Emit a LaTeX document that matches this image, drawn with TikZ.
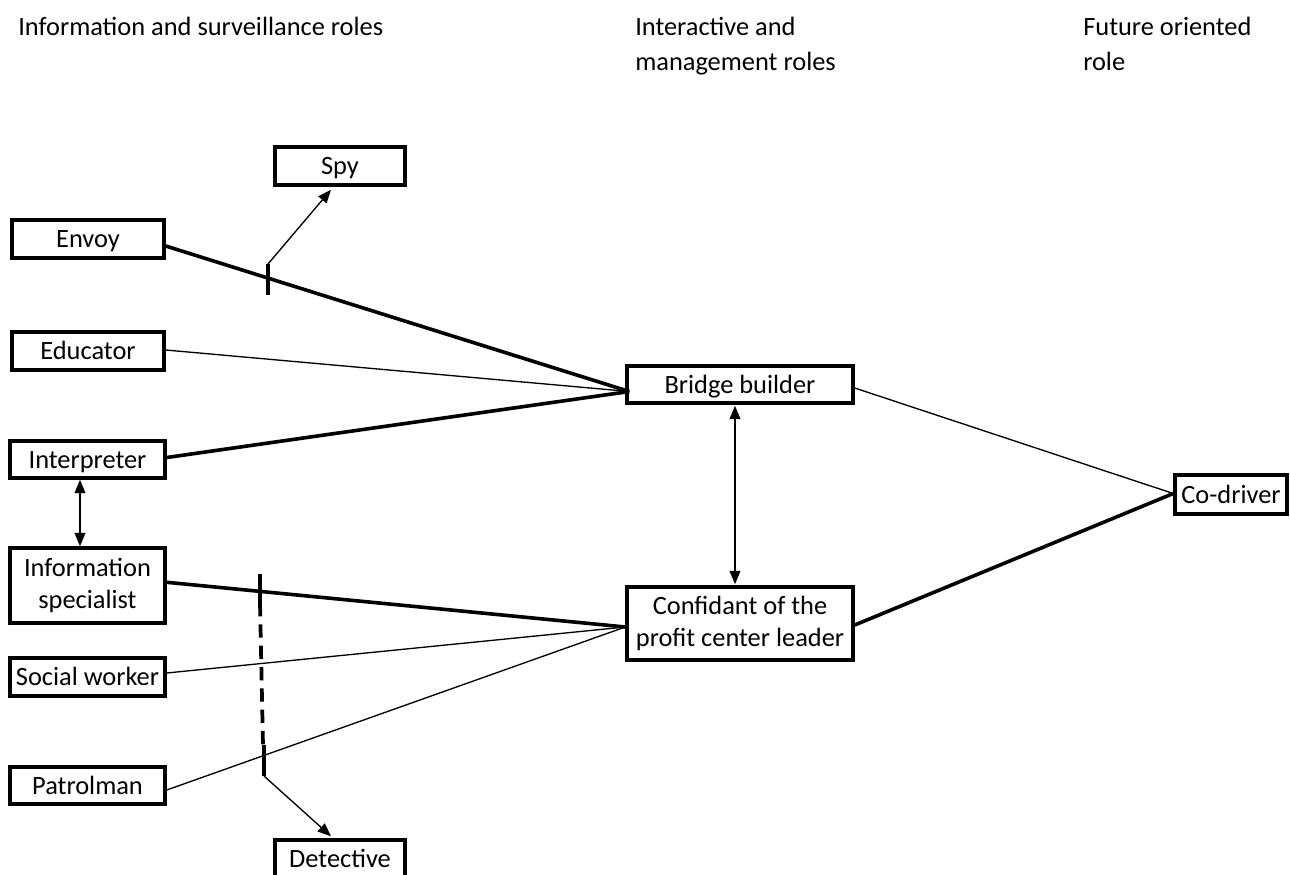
\documentclass[tikz,border=0pt]{standalone}
\usepackage{fontspec}
\setmainfont{Carlito}
\usetikzlibrary{arrows.meta,calc}
\begin{document}
\begin{tikzpicture}[x=0.75pt,y=-0.75pt,
  box/.style={draw,line width=2.6pt,inner sep=0pt,align=center,
    font=\fontsize{19.8pt}{23.5pt}\selectfont},
  one/.style={text height=16pt,text depth=3pt},
  head/.style={anchor=base west,inner sep=0pt,align=left,
    font=\fontsize{19.8pt}{26pt}\selectfont},
  thicklink/.style={line width=2.7pt},
  thinlink/.style={line width=1pt},
  tip/.style={-{Triangle[length=10pt,width=8pt]}},
  biarrow/.style={{Triangle[length=10pt,width=8pt]}-{Triangle[length=10pt,width=8pt]},line width=1.2pt},
  tickmark/.style={line width=3.6pt},
  dashline/.style={line width=2.8pt,dash pattern=on 10pt off 6pt}
]
\useasboundingbox (0,0) rectangle (1290,875);

% headers
\node[head] (h1) at (18,35) {Information and surveillance roles};
\node[head] (h2) at (635,70) {Interactive and\\management roles};
\node[head] (h3) at (1083,70) {Future oriented\\role};

% boxes
\node[box,one,minimum width=97.5pt,minimum height=28.5pt] (spy) at (340,166) {Spy};
\node[box,one,minimum width=114pt,minimum height=28.5pt] (envoy) at (88,239) {Envoy};
\node[box,one,minimum width=114pt,minimum height=28.5pt] (educator) at (88,351) {Educator};
\node[box,one,minimum width=116.25pt,minimum height=27.75pt] (interpreter) at (87.5,459.5) {Interpreter};
\node[box,minimum width=116.25pt,minimum height=56.25pt] (info) at (87.5,585.5) {Information\\specialist};
\node[box,one,minimum width=116.25pt,minimum height=28.5pt] (social) at (87.5,677) {Social worker};
\node[box,one,minimum width=116.25pt,minimum height=27.75pt] (patrol) at (87.5,785.5) {Patrolman};
\node[box,one,minimum width=97.5pt,minimum height=28.5pt] (detective) at (340,859) {Detective};
\node[box,one,minimum width=169.5pt,minimum height=27.75pt] (bridge) at (740,384.5) {Bridge builder};
\node[box,minimum width=169.5pt,minimum height=54.75pt] (confidant) at (740,623.5) {Confidant of the\\profit center leader};
\node[box,one,minimum width=84pt,minimum height=29.25pt] (codriver) at (1231,494.5) {Co-driver};

% convergence points
\coordinate (bbin) at ($(bridge.west)+(4,7)$);
\coordinate (cfin) at ($(confidant.west)+(0,3.5)$);
\coordinate (cdin) at ($(codriver.west)+(0,-1)$);

% connectors
\draw[thicklink] ($(envoy.east)+(0,7)$) -- (bbin);
\draw[thinlink] ($(educator.east)+(0,-1)$) -- (bbin);
\draw[thicklink] ($(interpreter.east)+(0,-2)$) -- (bbin);
\draw[thicklink] ($(info.east)+(-3,-3.5)$) -- (cfin);
\draw[thinlink] ($(social.east)+(0,-4)$) -- (cfin);
\draw[thinlink] ($(patrol.east)+(0,4.5)$) -- (cfin);
\draw[thinlink] ($(bridge.east)+(0,3.5)$) -- (cdin);
\draw[thicklink] ($(confidant.east)+(0,1.5)$) -- (cdin);

\draw[biarrow] ($(bridge.south)+(-5,1)$) -- ($(confidant.north)+(-5,-1)$);
\draw[biarrow] ($(interpreter.south)+(-7.5,0)$) -- ($(info.north)+(-7.5,0)$);

% spy branch
\coordinate (t1a) at (268,264);
\coordinate (t1b) at (268,295);
\draw[tickmark] (t1a) -- (t1b);
\draw[thinlink,tip] (t1a) -- ($(spy.south)+(-9,3)$);

% detective branch
\coordinate (t2a) at (260,574);
\coordinate (t2b) at (260,603);
\coordinate (t3a) at (264,745);
\coordinate (t3b) at (264,776);
\draw[tickmark] (t2a) -- (t2b);
\draw[dashline] (t2b) -- (263,745);
\draw[tickmark] (t3a) -- (t3b);
\draw[thinlink,tip] (t3b) -- ($(detective.north)+(-9,-2)$);
\end{tikzpicture}
\end{document}
